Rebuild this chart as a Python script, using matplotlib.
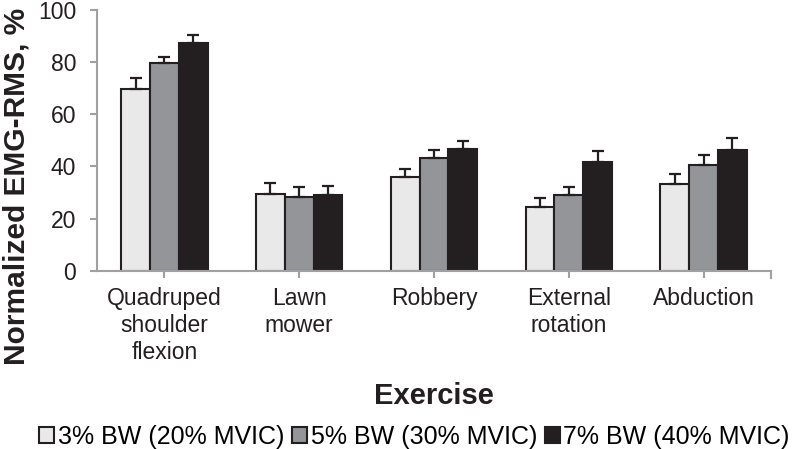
import matplotlib
matplotlib.use("Agg")
import matplotlib.pyplot as plt
import numpy as np

plt.rcParams['font.family'] = ['Liberation Sans', 'DejaVu Sans']

# Data
exercises = ['Quadruped\nshoulder\nflexion', 'Lawn\nmower', 'Robbery', 'External\nrotation', 'Abduction']
series_names = ['3% BW (20% MVIC)', '5% BW (30% MVIC)', '7% BW (40% MVIC)']
bw3 = [69.6, 29.3, 35.9, 24.6, 33.3]
bw5 = [79.8, 28.4, 43.1, 29.2, 40.4]
bw7 = [87.2, 28.9, 46.7, 41.7, 46.3]
err3 = [4.3, 4.5, 3.0, 3.2, 3.8]
err5 = [2.3, 3.8, 3.2, 3.0, 4.0]
err7 = [3.1, 3.7, 3.2, 4.3, 4.7]

colors = ['#e8e9e8', '#939598', '#231f20']
axis_grey = '#a0a0a0'
dark = '#231f20'

fig = plt.figure(figsize=(7.97, 4.49), dpi=100)
ax = fig.add_axes([0.1217, 0.397, 0.8457, 0.5807])

x = np.arange(len(exercises))
width = 0.214
values = [bw3, bw5, bw7]
errs = [err3, err5, err7]
for i in range(3):
    pos = x + (i - 1) * width
    ax.bar(pos, values[i], width, color=colors[i], edgecolor=dark,
           linewidth=1.5, label=series_names[i], zorder=2)
    ax.errorbar(pos, values[i], yerr=[np.zeros(len(exercises)), errs[i]],
                fmt='none', ecolor=dark, elinewidth=1.6, capsize=4.5,
                capthick=1.6, zorder=3)

ax.set_xlim(-0.5, len(exercises) - 0.5)
ax.set_ylim(0, 100)
ax.set_yticks(np.arange(0, 101, 20))
ax.set_xticks(x)
ax.set_xticklabels(exercises, fontsize=16.5, color=dark, linespacing=1.2)
ax.tick_params(axis='y', labelsize=16.5, colors=axis_grey, labelcolor=dark,
               length=5, width=1.5, direction='out', pad=10)
ax.tick_params(axis='x', colors=axis_grey, labelcolor=dark,
               length=5, width=1.5, direction='out', pad=7)
# extra tick at right end of the category axis
ax.plot([len(exercises) - 0.5] * 2, [0, -2.6], color=axis_grey, lw=1.5,
        clip_on=False, zorder=1)

for s in ['top', 'right']:
    ax.spines[s].set_visible(False)
for s in ['left', 'bottom']:
    ax.spines[s].set_color(axis_grey)
    ax.spines[s].set_linewidth(1.5)

fig.text(0.003, 1 - 186 / 449, 'Normalized EMG-RMS, %', fontsize=21.5,
         fontweight='bold', color=dark, rotation=90, ha='left', va='center')
fig.text(0.5445, 1 - 396 / 449, 'Exercise', fontsize=21, fontweight='bold',
         color=dark, ha='center', va='center')

fig.legend(loc='center', bbox_to_anchor=(0.52, 1 - 437 / 449), ncol=3,
           frameon=False, fontsize=18, handlelength=0.6, handleheight=0.6,
           handletextpad=0.15, columnspacing=0.3, borderaxespad=0)

fig.savefig('out.png', dpi=100)
